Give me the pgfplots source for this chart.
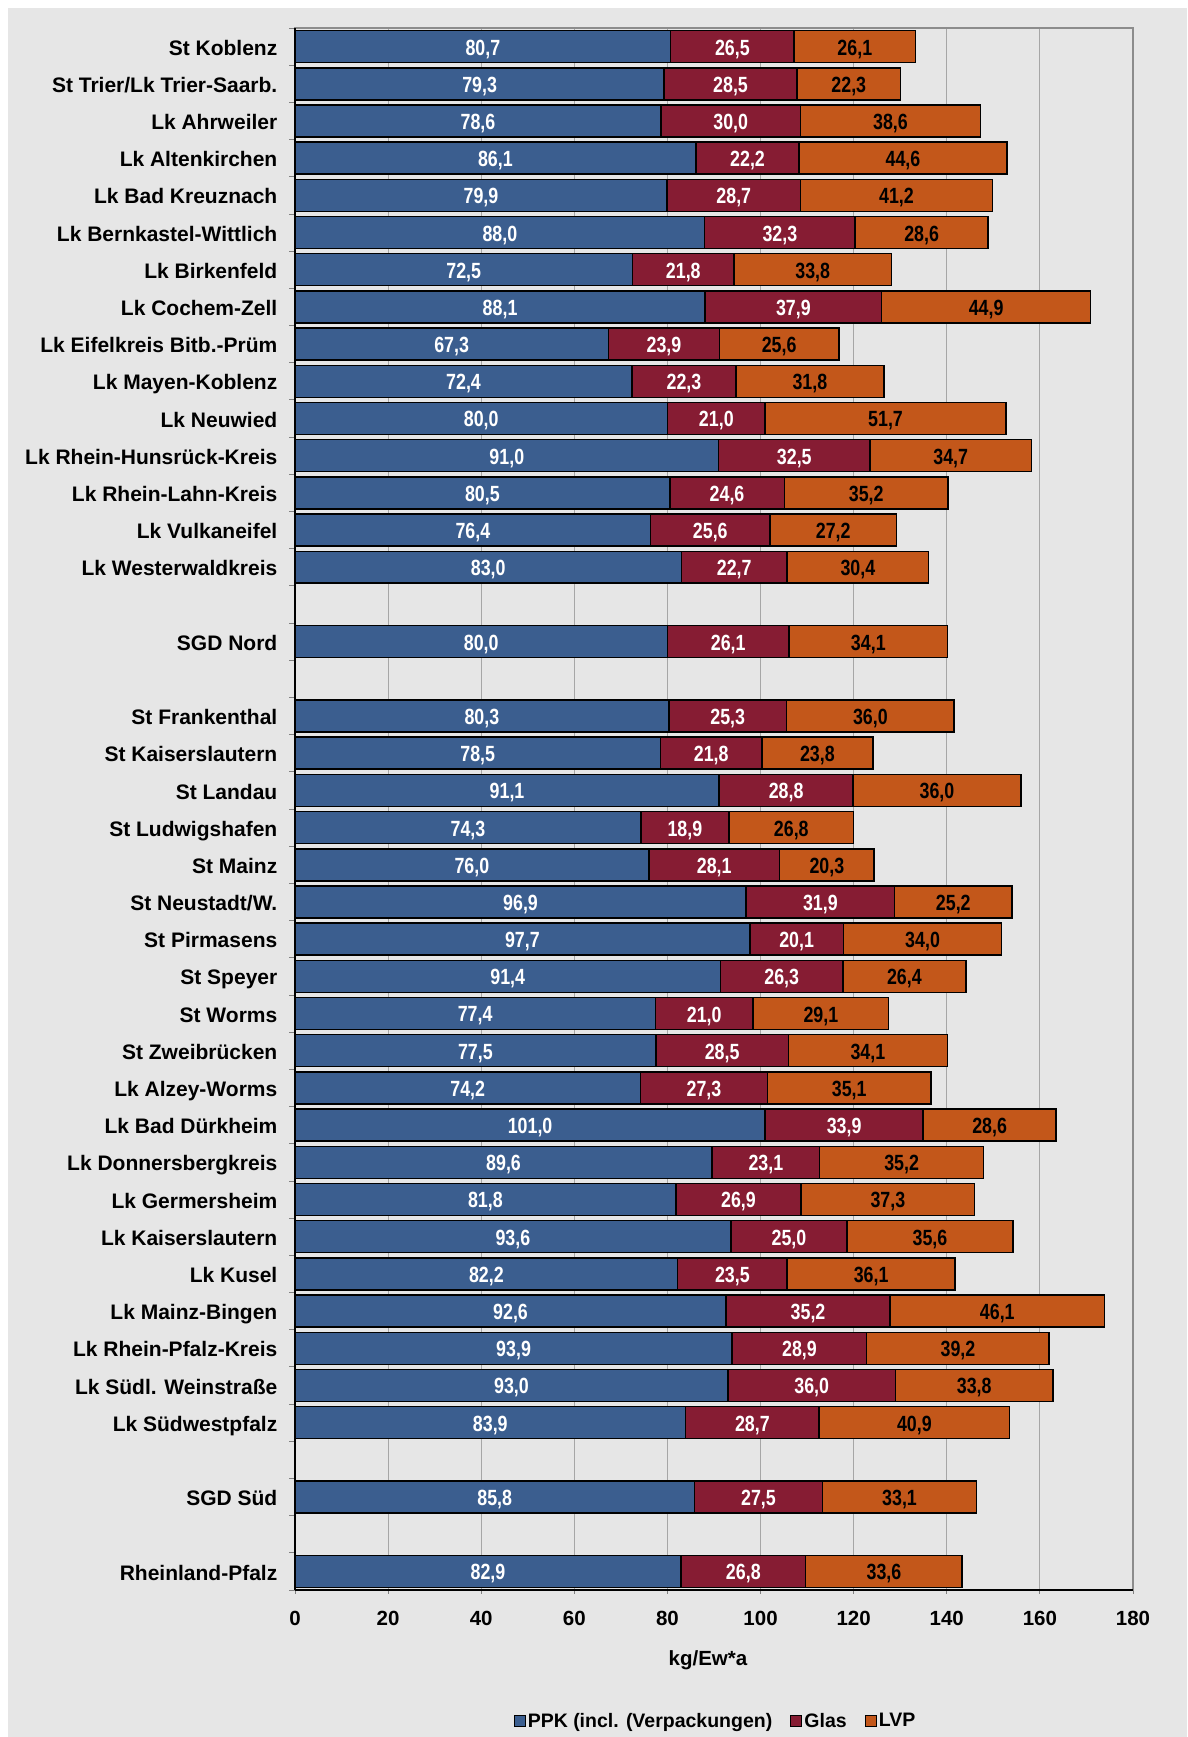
\documentclass[border=0pt]{standalone}
\usepackage{fontspec}
\setmainfont{Liberation Sans}
\newfontfamily\narrowfont{Liberation Sans}[FakeStretch=0.81]
\usepackage{pgfplots}
\usepackage{pgfplotstable}
\pgfplotsset{compat=1.18}
\definecolor{cPPK}{RGB}{59,94,143}
\definecolor{cGlas}{RGB}{134,28,51}
\definecolor{cLVP}{RGB}{195,87,26}
\definecolor{bggray}{RGB}{230,230,230}

\pgfplotstableread{
y ppk glas lvp
41 80.7 26.5 26.1
40 79.3 28.5 22.3
39 78.6 30.0 38.6
38 86.1 22.2 44.6
37 79.9 28.7 41.2
36 88.0 32.3 28.6
35 72.5 21.8 33.8
34 88.1 37.9 44.9
33 67.3 23.9 25.6
32 72.4 22.3 31.8
31 80.0 21.0 51.7
30 91.0 32.5 34.7
29 80.5 24.6 35.2
28 76.4 25.6 27.2
27 83.0 22.7 30.4
25 80.0 26.1 34.1
23 80.3 25.3 36.0
22 78.5 21.8 23.8
21 91.1 28.8 36.0
20 74.3 18.9 26.8
19 76.0 28.1 20.3
18 96.9 31.9 25.2
17 97.7 20.1 34.0
16 91.4 26.3 26.4
15 77.4 21.0 29.1
14 77.5 28.5 34.1
13 74.2 27.3 35.1
12 101.0 33.9 28.6
11 89.6 23.1 35.2
10 81.8 26.9 37.3
9 93.6 25.0 35.6
8 82.2 23.5 36.1
7 92.6 35.2 46.1
6 93.9 28.9 39.2
5 93.0 36.0 33.8
4 83.9 28.7 40.9
2 85.8 27.5 33.1
0 82.9 26.8 33.6
}\datatable

\begin{document}
\begin{tikzpicture}
\useasboundingbox (0pt,0pt) rectangle (1187pt,1737pt);
\fill[white] (0pt,0pt) rectangle (1187pt,1737pt);
\fill[bggray] (8pt,0pt) rectangle (1187pt,1729pt);
\begin{axis}[
  at={(295pt,147pt)}, anchor=south west,
  scale only axis, width=838pt, height=1562pt,
  xbar stacked, bar width=0.86,
  enlargelimits=false,
  xmin=0, xmax=180, ymin=-0.5, ymax=41.5,
  xtick={0,20,...,180},
  ytick={0,2,4,5,6,7,8,9,10,11,12,13,14,15,16,17,18,19,20,21,22,23,25,27,28,29,30,31,32,33,34,35,36,37,38,39,40,41},
  yticklabels={Rheinland-Pfalz,SGD Süd,Lk Südwestpfalz,Lk Südl. Weinstraße,Lk Rhein-Pfalz-Kreis,Lk Mainz-Bingen,Lk Kusel,Lk Kaiserslautern,Lk Germersheim,Lk Donnersbergkreis,Lk Bad Dürkheim,Lk Alzey-Worms,St Zweibrücken,St Worms,St Speyer,St Pirmasens,St Neustadt/W.,St Mainz,St Ludwigshafen,St Landau,St Kaiserslautern,St Frankenthal,SGD Nord,Lk Westerwaldkreis,Lk Vulkaneifel,Lk Rhein-Lahn-Kreis,Lk Rhein-Hunsrück-Kreis,Lk Neuwied,Lk Mayen-Koblenz,Lk Eifelkreis Bitb.-Prüm,Lk Cochem-Zell,Lk Birkenfeld,Lk Bernkastel-Wittlich,Lk Bad Kreuznach,Lk Altenkirchen,Lk Ahrweiler,St Trier/Lk Trier-Saarb.,St Koblenz},
  minor ytick={-0.5,0.5,...,41.5},
  tick align=outside, tick pos=left,
  major tick length=4pt, minor tick length=6pt,
  major y tick style={draw=none},
  minor y tick style={draw=black!50, line width=0.8pt},
  major x tick style={draw=black!50, line width=0.8pt},
  xmajorgrids,
  major grid style={draw=black!35, line width=0.9pt},
  axis line style={draw=black!45, line width=1.5pt},
  /pgf/number format/assume math mode=true,
  xticklabel style={font=\fontsize{20.5pt}{24pt}\selectfont\bfseries, anchor=base, yshift=-31pt},
  yticklabel style={font=\fontsize{21pt}{24pt}\selectfont\bfseries, anchor=mid east, inner sep=0pt, xshift=-13.5pt, yshift=-6pt},
  xlabel={kg/Ew*a},
  xlabel style={at={(axis description cs:0.5,0)}, anchor=center, yshift=-70.5pt, xshift=-6pt, font=\fontsize{20.5pt}{24pt}\selectfont\bfseries},
  legend image code/.code={\draw[#1, draw=black, line width=1.2pt] (0pt,-5.5pt) rectangle (11pt,5.5pt);},
  legend style={at={(axis description cs:0.5,0)}, anchor=center, yshift=-131pt, xshift=1.5pt, draw=none, fill=none, legend columns=-1, font=\fontsize{19.5pt}{22pt}\selectfont\bfseries, /tikz/every even column/.append style={column sep=16pt}, nodes={inner xsep=2pt, inner ysep=0pt}},
  visualization depends on={rawx \as \rawx},
  nodes near coords={\pgfmathprintnumber[fixed,fixed zerofill,precision=1,use comma,assume math mode=true]{\rawx}},
  every node near coord/.append style={anchor=center, inner sep=0pt, yshift=-2.5pt, font=\narrowfont\bfseries\fontsize{22pt}{24pt}\selectfont},
  after end axis/.code={
    \draw[black, line width=1.5pt] (axis description cs:0,0) -- (axis description cs:1,0);
    \draw[black, line width=1.5pt] (axis description cs:0,0) -- (axis description cs:0,1);
  },
]
\addplot[fill=cPPK, draw=black, line width=1.5pt, every node near coord/.append style={text=white}] table[x=ppk, y=y]{\datatable};
\addplot[fill=cGlas, draw=black, line width=1.5pt, every node near coord/.append style={text=white}] table[x=glas, y=y]{\datatable};
\addplot[fill=cLVP, draw=black, line width=1.5pt, every node near coord/.append style={text=black}] table[x=lvp, y=y]{\datatable};
\legend{PPK (incl. (Verpackungen),Glas,LVP}
\end{axis}
\end{tikzpicture}
\end{document}
